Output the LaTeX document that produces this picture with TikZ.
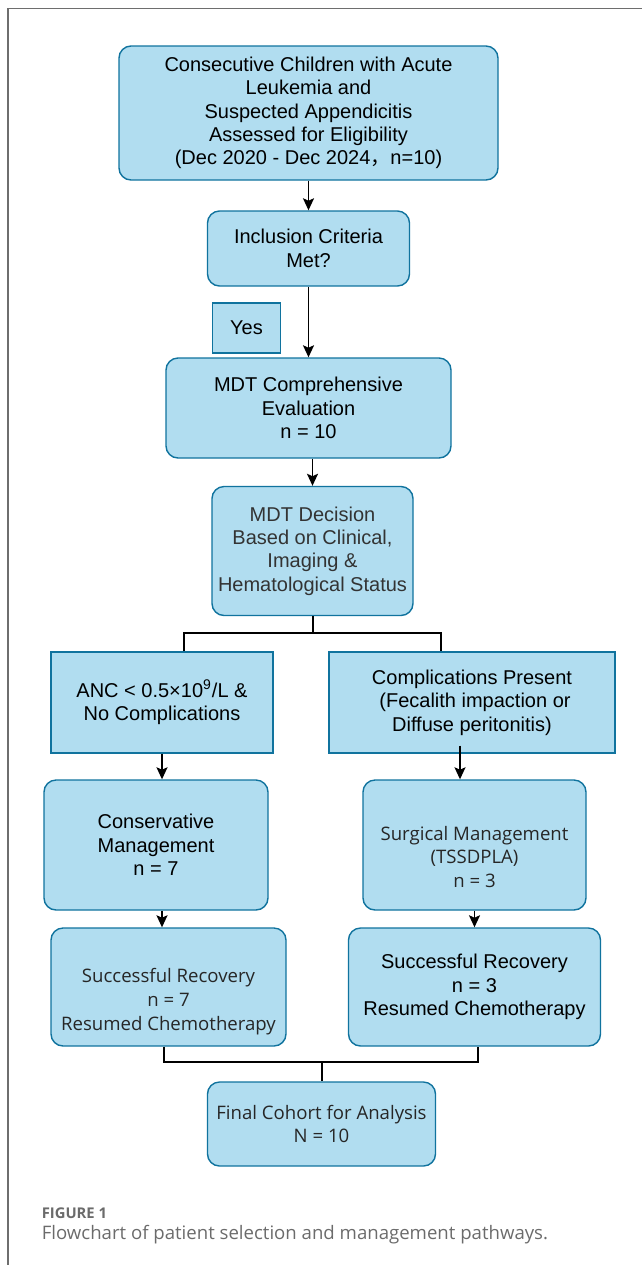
\documentclass[tikz,border=0pt]{standalone}
\usepackage{fontspec}
\setmainfont{Liberation Sans}
\newfontfamily\segoe{Open Sans}
\newfontfamily\cjk{Noto Sans CJK SC}
\usetikzlibrary{positioning,calc,arrows.meta}

\definecolor{boxfill}{HTML}{B1DDF0}
\definecolor{boxline}{HTML}{10739E}
\definecolor{framegray}{HTML}{6E6E6E}
\definecolor{capgray}{HTML}{6B6B6B}

\tikzset{
  rbox/.style={draw=boxline, fill=boxfill, line width=0.7pt, rounded corners=6pt,
    align=center, inner sep=2pt, text=black,
    font=\fontsize{10}{11.7}\selectfont},
  sbox/.style={rbox, rounded corners=0pt},
  segtext/.style={font=\segoe\fontsize{9.3}{11.9}\selectfont, text=black!85},
  branch/.style={line width=1pt},
}

\begin{document}
\begin{tikzpicture}[>={Stealth[length=6pt,width=5.5pt,inset=1.2pt]}, on grid, line width=0.8pt]
   \useasboundingbox (0,0) rectangle (321pt,-632.5pt);
   \draw[framegray, line width=0.6pt] (4pt,-632.5pt) -- (4pt,-4.25pt) -- (321pt,-4.25pt);

   \node[rbox, minimum width=189.5pt, minimum height=67pt] (screen) at (154.25pt,-56.5pt)
      {Consecutive Children with Acute\\Leukemia and\\Suspected Appendicitis\\Assessed for Eligibility\\(Dec 2020 - Dec 2024{\cjk ，}n=10)};
   \node[rbox, minimum width=101pt, minimum height=37.5pt] (incl) [below=67.75pt of screen]
      {Inclusion Criteria\\Met?};
   \node[sbox, minimum width=34pt, minimum height=25pt] (yes) [below left=39.75pt and 31pt of incl] {Yes};
   \node[rbox, minimum width=142.5pt, minimum height=50pt] (comp) [below=79.75pt of incl]
      {MDT Comprehensive\\Evaluation\\n = 10};
   \node[rbox, minimum width=100.5pt, minimum height=64.5pt, text=black!80] (decision) [below=71.5pt of comp, xshift=2pt]
      {MDT Decision\\Based on Clinical,\\Imaging \&\\Hematological Status};

   \node[sbox, minimum width=111pt, minimum height=50.5pt] (anc) [below left=75.75pt and 75.25pt of decision]
      {ANC < 0.5×10\textsuperscript{9}/L \&\\No Complications};
   \node[sbox, minimum width=143pt, minimum height=50.5pt] (compl) [below right=75.75pt and 79.75pt of decision]
      {Complications Present\\\hspace*{3pt}(Fecalith impaction or\\Diffuse peritonitis)};

   \node[rbox, minimum width=112pt, minimum height=65pt] (conserv) [below=71.25pt of anc, xshift=-3pt]
      {Conservative\\Management\\n = 7};
   % text sits low in these two boxes
   \node[rbox, segtext, minimum width=111.5pt, minimum height=65pt] (surg) [below=71.25pt of compl, xshift=1.25pt]
      {\rule{0pt}{19pt}Surgical Management\\(TSSDPLA)\\n = 3};

   \node[rbox, segtext, minimum width=117.5pt, minimum height=59pt] (recov_l) [below=71pt of conserv, xshift=6.25pt]
      {\rule{0pt}{22pt}Successful Recovery\\n = 7\\Resumed Chemotherapy};
   \node[rbox, minimum width=126pt, minimum height=59pt] (recov_r) [below=71pt of surg]
      {Successful Recovery\\n = 3\\Resumed Chemotherapy};

   \node[rbox, segtext, minimum width=114pt, minimum height=42pt] (final) at ($(recov_l)!0.5!(recov_r)+(0,-68.5pt)$)
      {Final Cohort for Analysis\\N = 10};

   \node[anchor=west, inner sep=0pt, text=capgray, font=\segoe\bfseries\fontsize{7.4}{9}\selectfont] (figlabel) at (20.5pt,-606.5pt) {FIGURE 1};
   \node[anchor=west, inner sep=0pt, text=capgray, font=\segoe\fontsize{9.3}{11}\selectfont] (figcaption) at (20.5pt,-617.5pt)
      {Flowchart of patient selection and management pathways.};

   \coordinate (split) at ($(decision.south)+(0,-8.5pt)$);
   \coordinate (join) at ($(final.north)+(0,9.5pt)$);

    \path[->]
    (screen.south)  edge (incl.north)
    (incl.south)    edge (comp.north)
    (decision.north |- comp.south) edge (decision.north)

    (anc.south) edge (anc.south |- conserv.north)
    ([xshift=-6pt,yshift=4pt]compl.south) edge ([xshift=-6pt]compl.south |- surg.north)

    (anc.south |- conserv.south) edge (anc.south |- recov_l.north)
    (surg.south) edge (surg.south |- recov_r.north);

   \draw[branch] (decision.south) -- (split);
   \draw[branch] ([xshift=11pt]anc.north) |- (split) -| ([xshift=-15.5pt]compl.north);
   \draw[branch] ([xshift=-2.25pt]recov_l.south) |- (join) -| ([xshift=1.5pt]recov_r.south);
   \draw[branch] (join) -- (final.north);
\end{tikzpicture}
\end{document}
